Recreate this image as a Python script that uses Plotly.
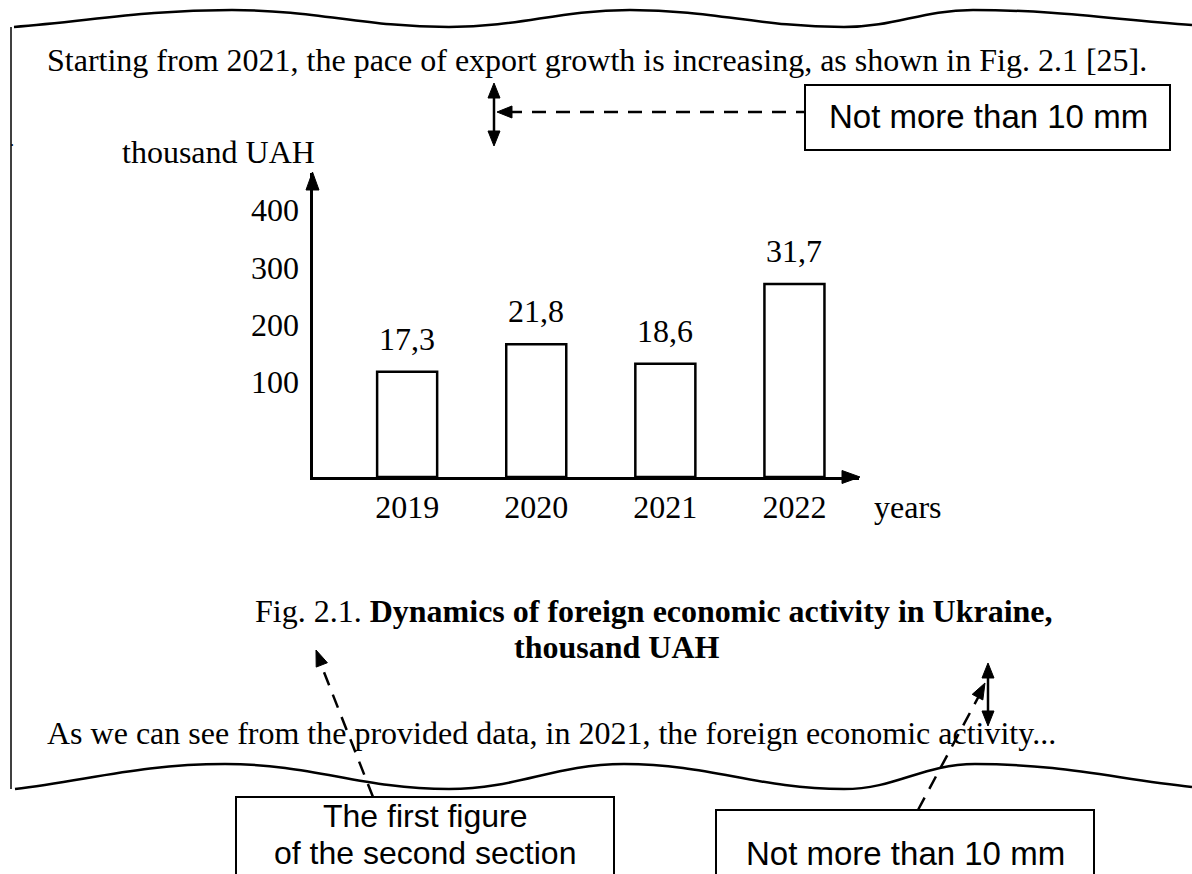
import math
import plotly.graph_objects as go

# ---------------- data ----------------
years = ["2019", "2020", "2021", "2022"]
values = [17.3, 21.8, 18.6, 31.7]
value_labels = ["17,3", "21,8", "18,6", "31,7"]
y_tick_labels = ["100", "200", "300", "400"]

top_text = "Starting from 2021, the pace of export growth is increasing, as shown in Fig. 2.1 [25]."
bottom_text = "As we can see from the provided data, in 2021, the foreign economic activity..."
caption_1 = "Fig. 2.1. <b>Dynamics of foreign economic activity in Ukraine,</b>"
caption_2 = "<b>thousand UAH</b>"
y_title = "thousand UAH"
x_title = "years"
note_mm = "Not more than 10 mm"
note_first_1 = "The first figure"
note_first_2 = "of the second section"

# ---------------- page geometry helpers ----------------
W, H = 1192, 874
SERIF = "Liberation Serif"
SANS = "Liberation Sans"
TS = 32
AS = 33


def X(px):
    return px / W


def Y(py):
    return 1 - py / H


def pt(x, y):
    return f"{X(x):.5f},{Y(y):.5f}"


def wave_path(pts):
    d = f"M {pt(*pts[0])}"
    n = len(pts)
    for i in range(1, n):
        x0, y0 = pts[i - 1]
        x1, y1 = pts[i]
        dx, dy = x1 - x0, y1 - y0
        if i == 1:
            c1 = (x0 + dx * 0.35, y0 + dy * 0.35)
        else:
            c1 = (x0 + dx * 0.4, y0)
        if i == n - 1:
            c2 = (x1 - dx * 0.35, y1 - dy * 0.35)
        else:
            c2 = (x1 - dx * 0.4, y1)
        d += f" C {pt(*c1)} {pt(*c2)} {pt(x1, y1)}"
    return d


def head(tip, frm, length=16, width=12):
    tx, ty = tip
    fx, fy = frm
    L = math.hypot(tx - fx, ty - fy)
    ux, uy = (tx - fx) / L, (ty - fy) / L
    bx, by = tx - ux * length, ty - uy * length
    px_, py_ = -uy * width / 2, ux * width / 2
    return dict(type="path", xref="paper", yref="paper",
                path=f"M {pt(tx, ty)} L {pt(bx + px_, by + py_)} L {pt(bx - px_, by - py_)} Z",
                fillcolor="black", line=dict(color="black", width=1))


def seg(x0, y0, x1, y1, width=2.5, dash="solid"):
    return dict(type="line", xref="paper", yref="paper",
                x0=X(x0), y0=Y(y0), x1=X(x1), y1=Y(y1),
                line=dict(color="black", width=width, dash=dash))


def rect(x0, y0, x1, y1, width=2):
    return dict(type="rect", xref="paper", yref="paper",
                x0=X(x0), y0=Y(y0), x1=X(x1), y1=Y(y1),
                line=dict(color="black", width=width), fillcolor="rgba(0,0,0,0)")


def txt(x, y, s, size=TS, family=SERIF, xanchor="center"):
    return dict(xref="paper", yref="paper", x=X(x), y=Y(y), text=s, showarrow=False,
                xanchor=xanchor, yanchor="middle", align="center",
                font=dict(family=family, size=size, color="black"))


# ---------------- chart ----------------
fig = go.Figure(go.Bar(
    x=years, y=values, width=0.465,
    marker=dict(color="white", line=dict(color="black", width=2.5)),
    hoverinfo="skip",
))

base_px, top_px = 477, 173
px_per_unit = 6.09
y_max = (base_px - top_px) / px_per_unit
tick_pos = [15.6, 24.96, 34.3, 43.84]

fig.update_layout(
    width=W, height=H,
    margin=dict(l=0, r=0, t=0, b=0),
    paper_bgcolor="white", plot_bgcolor="rgba(0,0,0,0)",
    showlegend=False,
    xaxis=dict(type="category", domain=[X(312.5), X(859)], range=[-0.733, 3.5],
               showline=True, linecolor="black", linewidth=3, ticks="",
               showgrid=False, zeroline=False, ticklabelstandoff=0,
               tickfont=dict(family=SERIF, size=TS, color="black")),
    yaxis=dict(domain=[Y(base_px), Y(top_px)], range=[0, y_max],
               showline=True, linecolor="black", linewidth=3, ticks="",
               showgrid=False, zeroline=False,
               tickvals=tick_pos, ticktext=y_tick_labels, ticklabelstandoff=4,
               tickfont=dict(family=SERIF, size=TS, color="black")),
)

annotations = []
for i, (v, lab) in enumerate(zip(values, value_labels)):
    annotations.append(dict(xref="x", yref="y", x=i, y=v, text=lab, showarrow=False,
                            yanchor="middle", yshift=33,
                            font=dict(family=SERIF, size=TS, color="black")))

annotations += [
    txt(45, 60, top_text, xanchor="left"),
    txt(45, 733, bottom_text, xanchor="left"),
    txt(654, 611, caption_1),
    txt(617, 647, caption_2),
    txt(218, 152, y_title),
    txt(908, 507, x_title),
    txt(988, 116, note_mm, size=AS, family=SANS),
    txt(425, 816, note_first_1, size=32, family=SANS),
    txt(425, 853, note_first_2, size=32, family=SANS),
    txt(905, 853, note_mm, size=AS, family=SANS),
    txt(12, 140, ".", size=16),
]

shapes = []
# wavy borders
top_wave = [(14, 27), (232, 10), (449, 27), (630, 10), (844, 27), (973, 10), (1192, 25)]
bot_wave = [(15, 789), (225, 764), (449, 789), (624, 764), (844, 789), (975, 764), (1192, 787)]
for w in (top_wave, bot_wave):
    shapes.append(dict(type="path", xref="paper", yref="paper", path=wave_path(w),
                       line=dict(color="black", width=2.5), fillcolor="rgba(0,0,0,0)"))
# left margin line
shapes.append(seg(11, 27, 11, 789, width=1.5))
# axis arrowheads
shapes.append(head((312.5, 172), (312.5, 300), length=18, width=13))
shapes.append(head((860, 477), (700, 477), length=18, width=13))
# top double arrow + dashed pointer
shapes.append(seg(494, 95, 494, 134))
shapes.append(head((494, 83), (494, 120), length=15, width=12))
shapes.append(head((494, 146), (494, 110), length=15, width=12))
shapes.append(seg(508, 112, 805, 112, dash="14px,10px"))
shapes.append(head((497, 112), (600, 112), length=15, width=12))
shapes.append(rect(805, 85, 1170, 150))
# bottom double arrow
shapes.append(seg(988, 675, 988, 714))
shapes.append(head((988, 663), (988, 700), length=15, width=12))
shapes.append(head((988, 726), (988, 690), length=15, width=12))
# dashed pointer to caption
shapes.append(seg(373, 797, 320, 662, dash="14px,10px"))
shapes.append(head((316, 650), (373, 797), length=16, width=12))
# dashed pointer to double arrow
shapes.append(seg(918, 810, 980, 694, dash="14px,10px"))
shapes.append(head((985, 683), (918, 810), length=16, width=12))
# bottom boxes (cut by page edge)
shapes.append(rect(236, 797, 614, 890))
shapes.append(rect(716, 810, 1094, 890))

fig.update_layout(annotations=annotations, shapes=shapes)

fig.write_html("out.html", post_script="document.body.style.margin='0';",
               config={"displayModeBar": False})
